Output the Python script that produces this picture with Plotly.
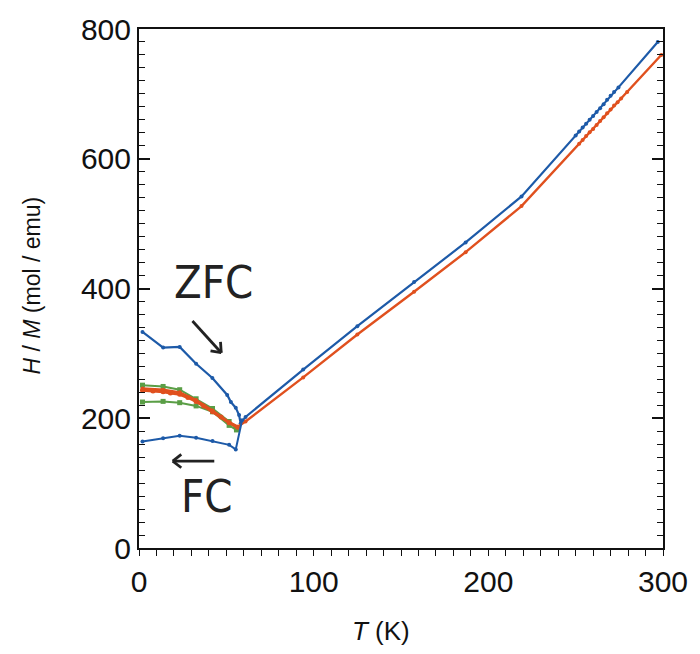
import math
import plotly.graph_objects as go

# H/M versus temperature; low-T branches split into ZFC / FC curves
blue_zfc_T = [2, 13.8, 23.3, 32.7, 42, 50.5, 52.6, 55.4, 57.3, 58.2, 61, 94, 125, 157.5, 187, 219,
              250, 252, 254, 256, 258, 260, 262, 264, 266, 268, 270, 272, 274.5, 297]
blue_zfc_v = [333, 309, 310, 284, 262, 236, 225, 216, 205, 192, 202, 275, 342, 410, 471, 542,
              636, 642, 648, 654, 660, 666, 672, 678, 684, 691, 697, 703, 710, 780]

blue_fc_T = [2, 13.8, 23.3, 32.7, 42.1, 51.6, 55.4, 59]
blue_fc_v = [164, 169, 173, 170, 165, 159, 152, 197]

red_a_T = [2, 13.8, 23.3, 32.7, 42.1, 51.6, 56.5, 61, 94, 125, 157.5, 187, 219,
           252, 254, 256, 258, 260, 262, 264, 266, 268, 270, 272, 274, 276, 279.5, 299]
red_a_v = [246, 244, 240, 228, 212, 194, 187, 195, 263, 329, 395, 456, 527,
           623, 629, 635, 641, 646, 652, 658, 664, 670, 676, 682, 687, 693, 703, 760]

red_b_T = [2, 8, 13.8, 18, 23.3, 28, 32.7, 37, 42.1, 47, 51.6, 56.5]
red_b_v = [243, 242, 241, 239, 237, 232, 226, 219, 210, 202, 193, 186]

green_hi_T = [2, 13.8, 23.3, 32.7, 42.1, 51.6, 55.8]
green_hi_v = [251, 249, 244, 230, 215, 195, 185]

green_lo_T = [2, 13.8, 23.3, 32.7, 42.1, 51.6, 55.8]
green_lo_v = [225, 226, 224, 219, 210, 189, 182]

# temperature axis: a tick every 10 K, labelled every 100 K
x_tick_vals = list(range(0, 301, 10))
x_tick_text = [str(v) if v % 100 == 0 else "" for v in x_tick_vals]

BLUE = "#1d5aa8"
RED = "#e0501e"
GREEN = "#5a9e46"
INK = "#111111"

fig = go.Figure()


def curve(x, y, color, width, symbol, size, yaxis="y"):
    fig.add_trace(go.Scatter(
        x=x, y=y, mode="lines+markers", yaxis=yaxis,
        line=dict(color=color, width=width),
        marker=dict(color=color, size=size, symbol=symbol),
        showlegend=False, hoverinfo="skip"))


curve(green_lo_T, green_lo_v, GREEN, 2, "square", 5)
curve(green_hi_T, green_hi_v, GREEN, 2, "square", 5)
# the right-hand axis shares the left one's range and only carries the mirrored ticks
curve(blue_fc_T, blue_fc_v, BLUE, 2, "circle", 4, yaxis="y2")
curve(blue_zfc_T, blue_zfc_v, BLUE, 2.2, "circle", 4)
curve(red_b_T, red_b_v, RED, 3, "circle", 5)
curve(red_a_T, red_a_v, RED, 2.4, "circle", 4)

# plot-area geometry (pixels) used to keep arrowheads symmetric on screen
L, R, T_, B = 139, 32, 22, 106
W, H = 700, 654
pw, ph = W - L - R, H - T_ - B
sx, sy = pw / 300.0, ph / 800.0


def arrow(x0, y0, x1, y1):
    dx, dy = (x1 - x0) * sx, (y1 - y0) * sy
    ang = math.atan2(dy, dx)
    head = 11
    xs, ys = [x0, x1], [y0, y1]
    for s in (1, -1):
        a = ang + math.pi - s * math.radians(38)
        xs += [None, x1, x1 + head * math.cos(a) / sx]
        ys += [None, y1, y1 + head * math.sin(a) / sy]
    fig.add_trace(go.Scatter(x=xs, y=ys, mode="lines",
                             line=dict(color="#222222", width=2.8),
                             showlegend=False, hoverinfo="skip"))


arrow(30.6, 350, 47.1, 301)
arrow(43.1, 134, 19.3, 134)

label_font = dict(family="DejaVu Sans Condensed, sans-serif", size=45, color="#222222")
fig.add_annotation(x=42.5, y=410, text="ZFC", showarrow=False, font=label_font,
                   xref="x", yref="y")
fig.add_annotation(x=39.1, y=79, text="FC", showarrow=False, font=label_font,
                   xref="x", yref="y")

fig.add_annotation(x=-0.205, y=0.505, xref="paper", yref="paper", textangle=-90,
                   xanchor="center", yanchor="middle",
                   text="<i>H</i> / <i>M</i> (mol / emu)", showarrow=False,
                   font=dict(family="Liberation Sans, Arial, sans-serif", size=23, color=INK))
fig.add_annotation(x=0.461, y=-0.16, xref="paper", yref="paper",
                   xanchor="center", yanchor="middle",
                   text="<i>T</i> (K)", showarrow=False,
                   font=dict(family="Liberation Sans, Arial, sans-serif", size=26, color=INK))

tickfont = dict(family="Liberation Sans, Arial, sans-serif", size=30, color=INK)
line = dict(showline=True, linecolor=INK, linewidth=2, showgrid=False, zeroline=False)
yminor = dict(ticks="inside", dtick=20, ticklen=6, tickwidth=1.3, tickcolor=INK)

fig.update_layout(
    xaxis=dict(range=[0, 300], tickmode="array", tickvals=x_tick_vals, ticktext=x_tick_text,
               ticks="outside", ticklen=6, tickwidth=1.4, tickcolor=INK,
               tickfont=tickfont, mirror=True, **line),
    yaxis=dict(range=[0, 800], dtick=200, tick0=0, tickfont=tickfont, ticks="inside",
               ticklen=11, tickwidth=1.6, tickcolor=INK, minor=yminor, **line),
    yaxis2=dict(range=[0, 800], dtick=200, tick0=0, overlaying="y", side="right", anchor="x",
                ticks="inside", ticklen=11, tickwidth=1.6, tickcolor=INK,
                showticklabels=False, minor=yminor, **line),
    width=W, height=H,
    margin=dict(l=L, r=R, t=T_, b=B),
    paper_bgcolor="white", plot_bgcolor="white",
)

fig.write_html("out.html")
